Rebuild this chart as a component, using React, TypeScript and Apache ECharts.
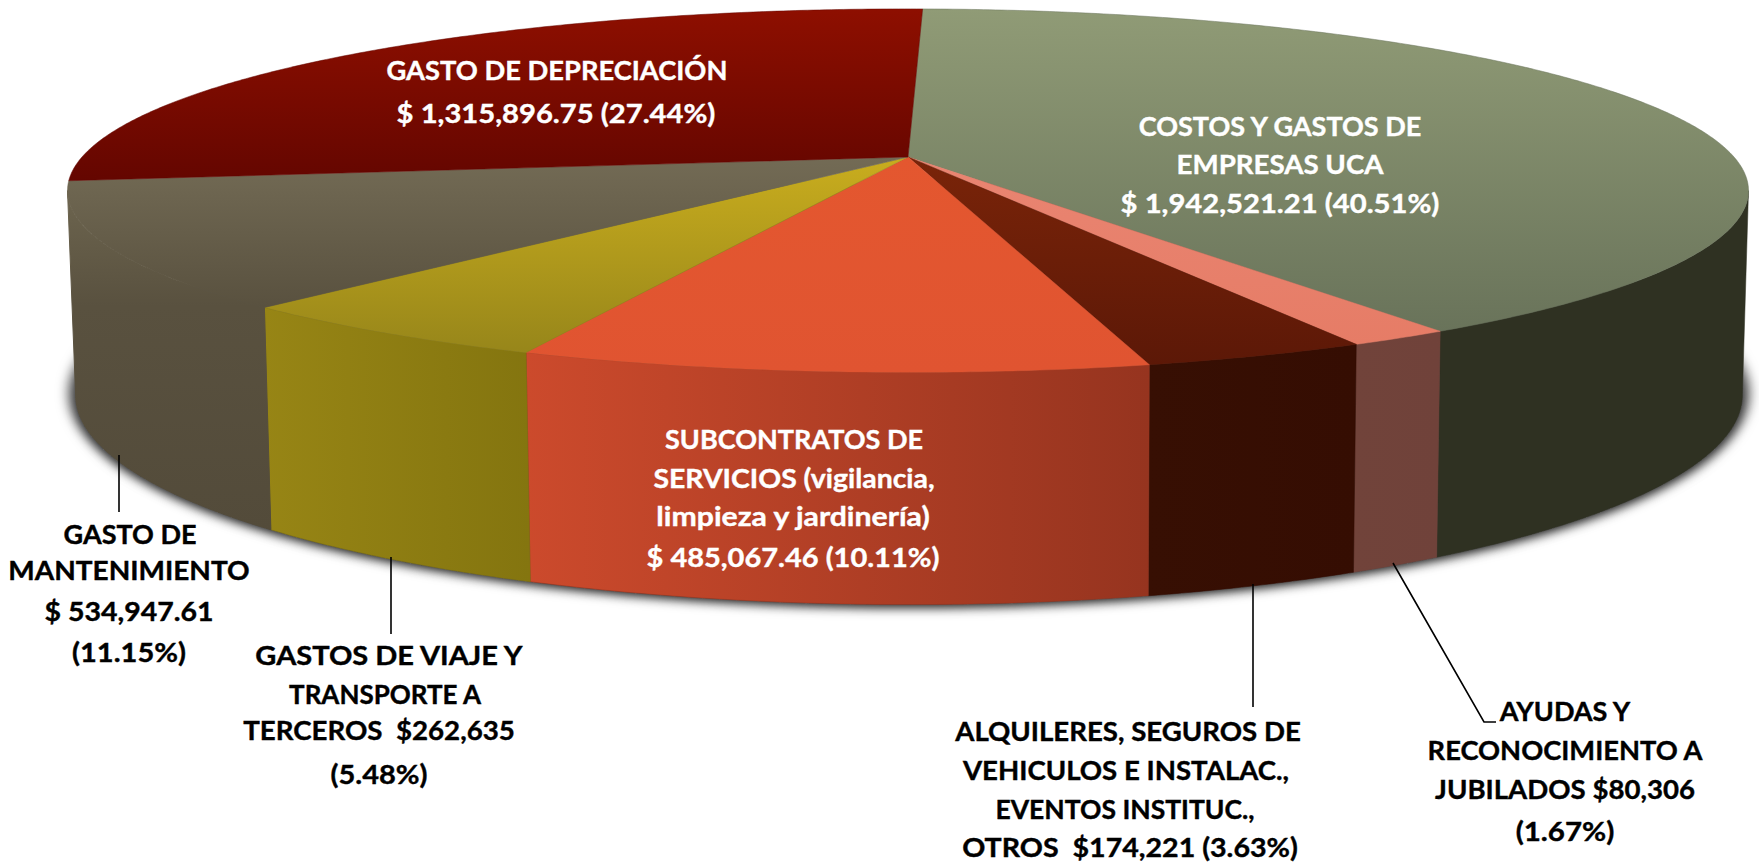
import React, { useEffect, useRef } from "react";
import * as echarts from "echarts";

const categories = [
  "COSTOS Y GASTOS DE EMPRESAS UCA",
  "AYUDAS Y RECONOCIMIENTO A JUBILADOS",
  "ALQUILERES, SEGUROS DE VEHICULOS E INSTALAC., EVENTOS INSTITUC., OTROS",
  "SUBCONTRATOS DE SERVICIOS (vigilancia, limpieza y jardinería)",
  "GASTOS DE VIAJE Y TRANSPORTE A TERCEROS",
  "GASTO DE MANTENIMIENTO",
  "GASTO DE DEPRECIACIÓN",
];
const values = [1942521.21, 80306, 174221, 485067.46, 262635, 534947.61, 1315896.75];
const topColors = [
  ["#909b76", "#69735a"],
  ["#e98572", "#e67c66"],
  ["#7a2409", "#5c1807"],
  ["#e4572f", "#e05431"],
  ["#c9ad1e", "#97861a"],
  ["#736b55", "#59513f"],
  ["#8e0f00", "#640600"],
];
const wallColors = [
  ["#2f3122", "#2f3122"],
  ["#71433a", "#70423a"],
  ["#370f03", "#350d02"],
  ["#cc4a2c", "#96341f"],
  ["#978515", "#84750f"],
  ["#5f5745", "#514938"],
  ["#5f0600", "#5f0600"],
];
const MANT_WALL = ["#6d654f", "#59513f", "#534b3a"];
const MANT_INDEX = 5;

const labelLines = [
  ["COSTOS Y GASTOS DE", "EMPRESAS UCA", "$ 1,942,521.21 (40.51%)"],
  ["AYUDAS Y", "RECONOCIMIENTO A", "JUBILADOS $80,306", "(1.67%)"],
  ["ALQUILERES, SEGUROS DE", "VEHICULOS E INSTALAC.,", "EVENTOS INSTITUC.,", "OTROS  $174,221 (3.63%)"],
  ["SUBCONTRATOS DE", "SERVICIOS (vigilancia,", "limpieza y jardinería)", "$ 485,067.46 (10.11%)"],
  ["GASTOS DE VIAJE Y", "TRANSPORTE A", "TERCEROS  $262,635", "(5.48%)"],
  ["GASTO DE", "MANTENIMIENTO", "$ 534,947.61", "(11.15%)"],
  ["GASTO DE DEPRECIACIÓN", "$ 1,315,896.75 (27.44%)"],
];
const labelFills = ["#fff", "#000", "#000", "#fff", "#000", "#000", "#fff"];
const lineX = [
  [1280, 1280, 1280],
  [1565, 1565, 1565, 1565],
  [1128, 1126, 1125, 1130],
  [794, 794, 793, 793],
  [389, 385, 379, 379],
  [130, 129, 129, 129],
  [557, 556],
];
const lineY = [
  [125.5, 163.5, 202],
  [710, 749, 789, 830],
  [731, 770, 808, 846],
  [438.5, 477, 516, 556],
  [654, 694, 730, 773],
  [533, 570, 610, 651],
  [69.5, 112],
];
const lineWidthEm = [
  [27, 27.7, 29.2],
  [27, 27.3, 27.6, 29.5],
  [27.6, 27.6, 26.5, 28.6],
  [27, 28.4, 30.2, 29],
  [29, 26, 27.7, 29],
  [27, 28, 28.5, 29],
  [27.3, 29.2],
];
const BASE_FONT = 27.5;
const leaders = [
  [[119, 455], [119, 512]],
  [[391, 557], [391, 634]],
  [[1253, 584], [1253, 707]],
  [[1393, 563], [1484, 722], [1496, 722]],
];

const START_DEG = 1.2;
const TILT = 0.185;
const TOP = { cx: 908, cy: 157, a: 826, b: 175.5 };
const BOTTOM = { cx: 909, cy: 356, a: 819, b: 202.6 };
const WALL_FROM = (Math.acos(-TILT) * 180) / Math.PI;
const WALL_TO = 360 - WALL_FROM;

const project = (p: typeof TOP, deg: number) => {
  const t = (deg * Math.PI) / 180;
  const X = Math.sin(t);
  const Y = Math.cos(t);
  const w = 1 + TILT * Y;
  return [p.cx + (p.a * X) / w, p.cy - (p.b * Y) / w];
};

const arc = (p: typeof TOP, from: number, to: number) => {
  const pts: number[][] = [];
  const n = Math.max(2, Math.ceil(to - from) * 2);
  for (let i = 0; i <= n; i++) pts.push(project(p, from + ((to - from) * i) / n));
  return pts;
};

const total = values.reduce((s, v) => s + v, 0);

const vGrad = (c: string[]) =>
  new echarts.graphic.LinearGradient(0, 0, 0, 1, [
    { offset: 0, color: c[0] },
    { offset: 1, color: c[1] },
  ]);
const hGrad = (c: string[]) =>
  new echarts.graphic.LinearGradient(0, 0, 1, 0, [
    { offset: 0, color: c[0] },
    { offset: 1, color: c[1] },
  ]);
const mantGrad = () =>
  new echarts.graphic.LinearGradient(0, 0, 0, 1, [
    { offset: 0, color: MANT_WALL[0] },
    { offset: 0.34, color: MANT_WALL[1] },
    { offset: 1, color: MANT_WALL[2] },
  ]);

const renderSlice = (params: any, api: any) => {
  const i = api.value(0);
  let before = 0;
  for (let k = 0; k < i; k++) before += values[k];
  const from = START_DEG + (before / total) * 360;
  const to = from + (api.value(1) / total) * 360;
  const children: any[] = [];
  const wFrom = Math.max(from, WALL_FROM);
  const wTo = Math.min(to, WALL_TO);
  if (wTo > wFrom) {
    children.push({
      type: "polygon",
      shape: { points: [...arc(TOP, wFrom, wTo), ...arc(BOTTOM, wFrom, wTo).reverse()] },
      style: {
        fill: i === MANT_INDEX ? mantGrad() : hGrad(wallColors[i]),
        stroke: i === MANT_INDEX ? mantGrad() : wallColors[i][1],
        lineWidth: i === MANT_INDEX ? 1 : 0.5,
      },
    });
  }
  children.push({
    type: "polygon",
    shape: { points: [[TOP.cx, TOP.cy], ...arc(TOP, from, to)] },
    style: {
      fill: vGrad(topColors[i]),
      stroke: i === MANT_INDEX ? vGrad(topColors[i]) : topColors[i][1],
      lineWidth: 0.5,
    },
  });
  return { type: "group", children };
};

const shadowOffsets = [-8, 8, 0];
const renderShadow = () => ({
  type: "group",
  children: shadowOffsets.map((dx) => ({
    type: "polygon",
    shape: { points: arc(BOTTOM, 0, 360) },
    style: {
      fill: "#555",
      shadowBlur: 12,
      shadowColor: dx === 0 ? "rgba(0,0,0,0.7)" : "rgba(0,0,0,0.55)",
      shadowOffsetX: dx,
      shadowOffsetY: dx === 0 ? 3 : -2,
    },
  })),
});

export default function App() {
  const ref = useRef<HTMLDivElement>(null);
  useEffect(() => {
    const chart = echarts.init(ref.current!, null, { renderer: "svg" });
    const texts: any[] = [];
    labelLines.forEach((lines, i) => {
      lines.forEach((text, j) => {
        texts.push({
          type: "text",
          z: 6,
          x: lineX[i][j],
          y: lineY[i][j],
          scaleX: lineWidthEm[i][j] / BASE_FONT,
          style: {
            text,
            fill: labelFills[i],
            stroke: labelFills[i],
            lineWidth: 0.4,
            align: "center",
            verticalAlign: "middle",
            fontFamily: "Lato",
            fontWeight: 700,
            fontSize: BASE_FONT,
          },
        });
      });
    });
    chart.setOption({
      animation: false,
      backgroundColor: "#fff",
      series: [
        {
          type: "custom",
          name: "sombra",
          coordinateSystem: "none",
          z: 1,
          silent: true,
          clip: false,
          renderItem: renderShadow,
          data: [[0]],
        },
        {
          type: "custom",
          name: "Gastos",
          coordinateSystem: "none",
          z: 2,
          silent: true,
          clip: false,
          renderItem: renderSlice,
          data: values.map((v, i) => ({ name: categories[i], value: [i, v] })),
        },
      ],
      graphic: [
        ...leaders.map((points) => ({
          type: "polyline",
          z: 5,
          shape: { points },
          style: { stroke: "#000", lineWidth: 1.6, fill: "none" },
        })),
        ...texts,
      ],
    });
    return () => chart.dispose();
  }, []);
  return <div ref={ref} style={{ position: "fixed", left: 0, top: 0, width: 1759, height: 863 }} />;
}
